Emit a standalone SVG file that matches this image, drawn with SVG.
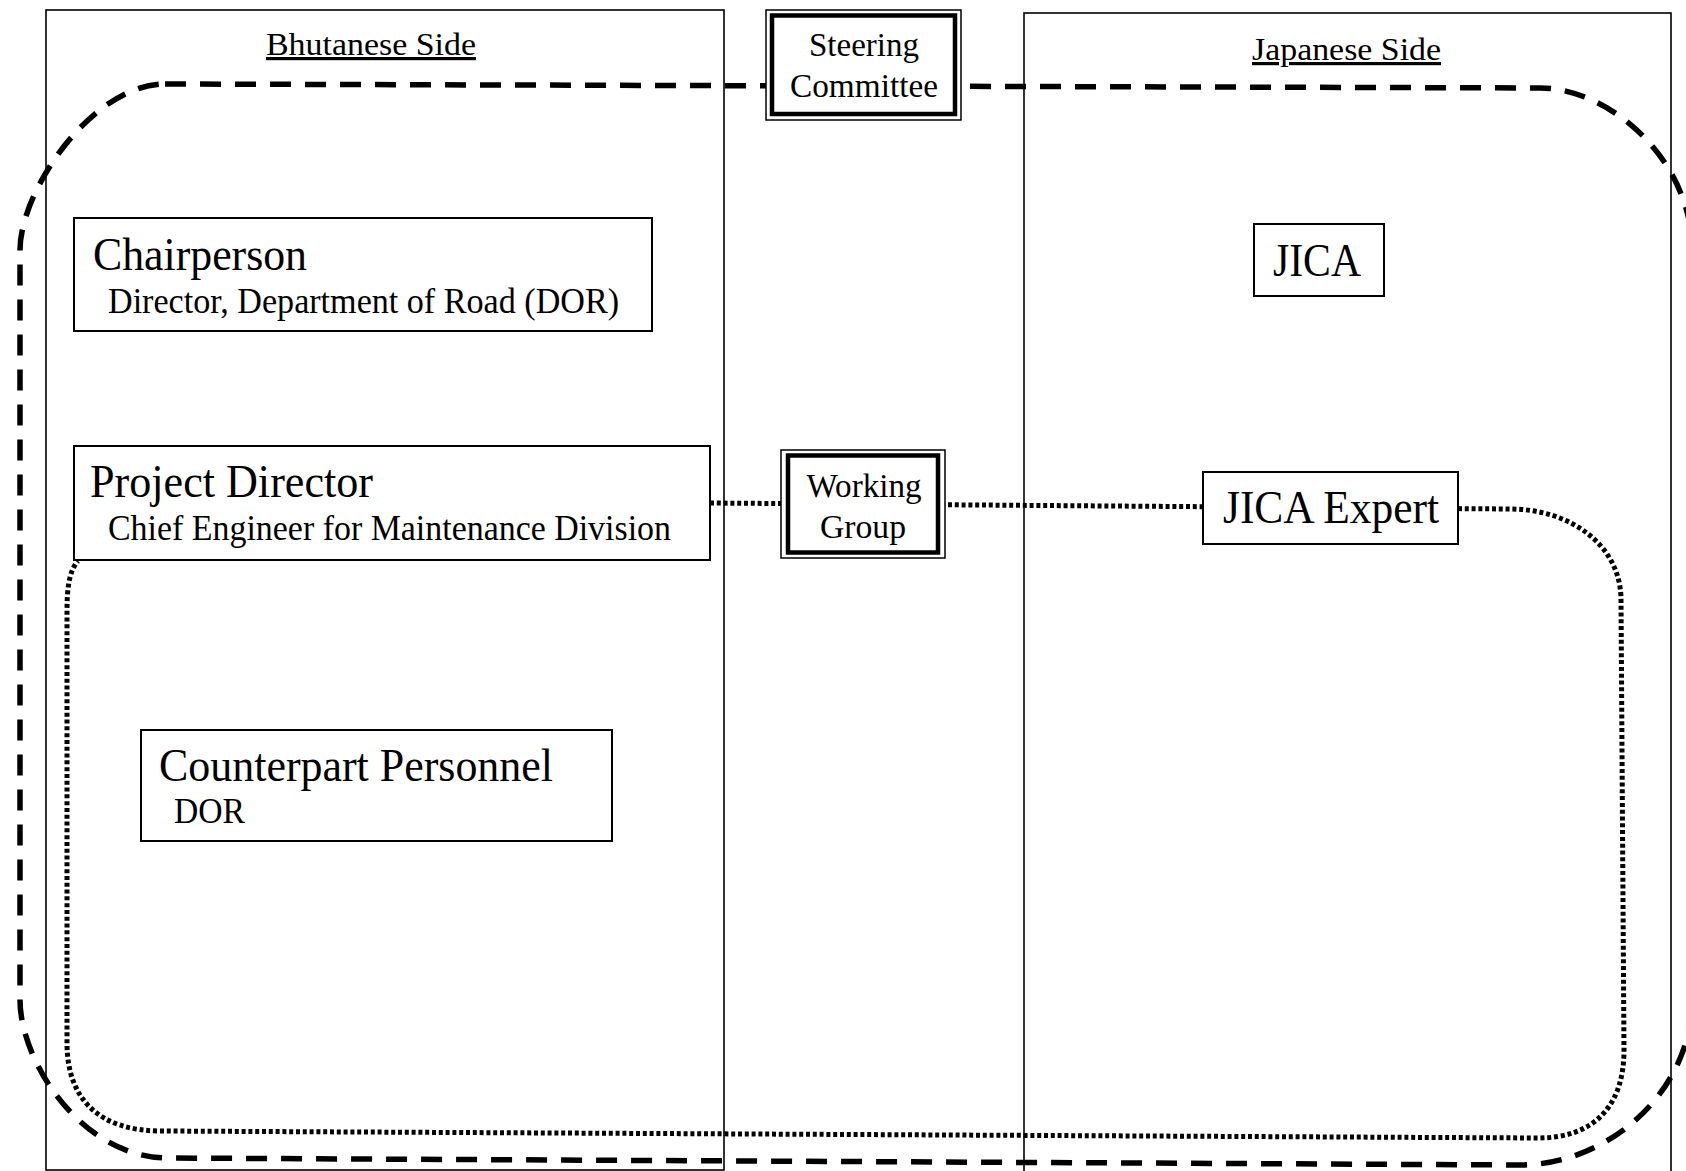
<svg xmlns="http://www.w3.org/2000/svg" width="1686" height="1171" viewBox="0 0 1686 1171">
<style>
.panel{fill:none;stroke:#000;stroke-width:1.6}
.box{fill:#fff;stroke:#000;stroke-width:2}
.outer{fill:#fff;stroke:#000;stroke-width:1.5}
.inner{fill:none;stroke:#000;stroke-width:4.5}
.dash{fill:none;stroke:#000;stroke-width:5.5;stroke-dasharray:21 14}
.dot{fill:none;stroke:#000;stroke-width:5;stroke-dasharray:4 2.8}
.t{font-family:"Liberation Serif","Times New Roman",serif;fill:#000}
.big{font-size:46px}
.small{font-size:35px}
.mid{font-size:33px}
.head{font-size:32px;text-decoration:underline}
</style>
<rect width="1686" height="1171" fill="#fff"/>
<g id="bhutanese-side">
<rect class="panel" x="46" y="10" width="678" height="1160"/>
<text class="t head" x="266" y="55" textLength="210" lengthAdjust="spacingAndGlyphs">Bhutanese Side</text>
</g>
<g id="japanese-side">
<rect class="panel" x="1024" y="13" width="647" height="1175"/>
<text class="t head" x="1252" y="60" textLength="189" lengthAdjust="spacingAndGlyphs">Japanese Side</text>
</g>
<g id="connectors">
<path class="dash" d="M 165 84 L 1540 88 C 1610 88 1692 160 1692 250 L 1692 1000 C 1692 1090 1610 1165 1520 1165 L 167 1158 C 80 1157 20 1060 20 1000 L 20 250 C 20 191 92 84 165 84 Z"/>
<path class="dot" d="M 710 503 L 1510 509 C 1570 509 1621 545 1621 600 L 1624 1050 C 1624 1105 1595 1138 1538 1138 L 161 1131 C 100 1131 67 1100 67 1043 L 67 610 C 67 585 70 570 78 561"/>
</g>
<g id="steering-committee">
<rect class="outer" x="766" y="10" width="195" height="110"/>
<rect class="inner" x="772" y="15.5" width="183" height="98.5"/>
<text class="t mid" x="864" y="56" text-anchor="middle" textLength="110" lengthAdjust="spacingAndGlyphs">Steering</text>
<text class="t mid" x="864" y="97" text-anchor="middle" textLength="148" lengthAdjust="spacingAndGlyphs">Committee</text>
</g>
<g id="working-group">
<rect class="outer" x="781" y="450" width="164" height="108"/>
<rect class="inner" x="788" y="455.5" width="150" height="97"/>
<text class="t mid" x="864" y="497" text-anchor="middle" textLength="115" lengthAdjust="spacingAndGlyphs">Working</text>
<text class="t mid" x="863" y="538" text-anchor="middle" textLength="86" lengthAdjust="spacingAndGlyphs">Group</text>
</g>
<g id="chairperson">
<rect class="box" x="74" y="218" width="578" height="113"/>
<text class="t big" x="93" y="270" textLength="214" lengthAdjust="spacingAndGlyphs">Chairperson</text>
<text class="t small" x="108" y="313" textLength="511" lengthAdjust="spacingAndGlyphs">Director, Department of Road (DOR)</text>
</g>
<g id="project-director">
<rect class="box" x="74" y="446" width="636" height="114"/>
<text class="t big" x="90" y="497" textLength="283" lengthAdjust="spacingAndGlyphs">Project Director</text>
<text class="t small" x="108" y="540" textLength="563" lengthAdjust="spacingAndGlyphs">Chief Engineer for Maintenance Division</text>
</g>
<g id="counterpart-personnel">
<rect class="box" x="141" y="730" width="471" height="111"/>
<text class="t big" x="159" y="781" textLength="394" lengthAdjust="spacingAndGlyphs">Counterpart Personnel</text>
<text class="t small" x="174" y="823" textLength="71" lengthAdjust="spacingAndGlyphs">DOR</text>
</g>
<g id="jica">
<rect class="box" x="1254" y="224" width="130" height="72"/>
<text class="t big" x="1273" y="276" textLength="88" lengthAdjust="spacingAndGlyphs">JICA</text>
</g>
<g id="jica-expert">
<rect class="box" x="1203" y="472" width="255" height="72"/>
<text class="t big" x="1223" y="523" textLength="216" lengthAdjust="spacingAndGlyphs">JICA Expert</text>
</g>
</svg>
